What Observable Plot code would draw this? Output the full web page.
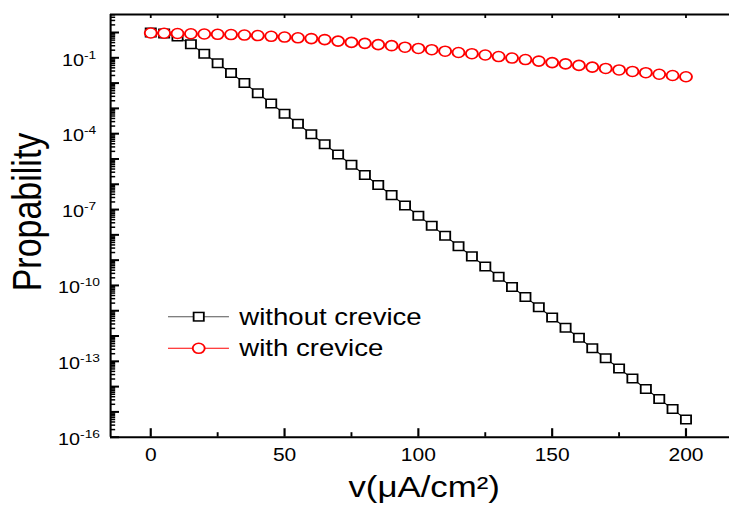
<!DOCTYPE html>
<html><head><meta charset="utf-8">
<script src="https://cdn.jsdelivr.net/npm/d3@7"></script>
<script src="https://cdn.jsdelivr.net/npm/@observablehq/plot@0.6"></script>
<style>html,body{margin:0;padding:0;background:#fff;} #chart svg{display:block;}</style>
</head><body><div id="chart"></div>
<script>
// ---- data ----
const velocity = [0,5,10,15,20,25,30,35,40,45,50,55,60,65,70,75,80,85,90,95,100,105,110,115,120,125,130,135,140,145,150,155,160,165,170,175,180,185,190,195,200];
const withoutCrevice = [1.0,0.91,0.69,0.34,0.145,0.0603,0.0251,1.0e-2,3.98e-3,1.55e-3,6.17e-4,2.45e-4,9.55e-5,3.80e-5,1.51e-5,5.89e-6,2.34e-6,9.33e-7,3.72e-7,1.45e-7,5.75e-8,2.29e-8,9.12e-9,3.55e-9,1.41e-9,5.62e-10,2.19e-10,8.71e-11,3.47e-11,1.38e-11,5.37e-12,2.14e-12,8.51e-13,3.31e-13,1.32e-13,5.25e-14,2.09e-14,8.13e-15,3.24e-15,1.29e-15,5.01e-16];
const withCrevice = [0.955,0.933,0.912,0.891,0.871,0.851,0.832,0.794,0.759,0.708,0.661,0.617,0.575,0.525,0.457,0.407,0.372,0.331,0.302,0.263,0.234,0.209,0.182,0.162,0.145,0.129,0.112,0.0977,0.0851,0.0741,0.0646,0.0575,0.0501,0.0427,0.0380,0.0331,0.0288,0.0257,0.0224,0.0200,0.0178];
const seriesNames = ["without crevice", "with crevice"];
const xTickValues = [0, 50, 100, 150, 200];
const xMinorTicks = [25, 75, 125, 175];
const xTopTicks = [0, 25, 50, 75, 100, 125, 150, 175, 200];
const yTickValues = [1e-1, 1e-4, 1e-7, 1e-10, 1e-13, 1e-16];
const yTickExponents = ["-1", "-4", "-7", "-10", "-13", "-16"];
const xTitle = "v(\u03bcA/cm\u00b2)";
const yTitle = "Propability";

// ---- layout (drawn at 607.5 wide, then stretched to 729 like the reference) ----
const W = 607.5, H = 517, ML = 91.67, MR = 0, MT = 14, MB = 80.3;
const xDomain = [-15, 216.3];
const yDomain = [1e-16, 5.15];
const frameW = W - ML - MR, frameH = H - MT - MB;
const pxPerUnitX = frameW / (xDomain[1] - xDomain[0]);
const pxPerDecade = frameH / Math.log10(yDomain[1] / yDomain[0]);
const FONT = "Arial, 'Liberation Sans', Helvetica, sans-serif";

const decades = [];
const minorY = [];
for (let k = -16; k <= 0; k++) {
  decades.push(Math.pow(10, k));
  for (let m = 2; m <= 9; m++) {
    const v = m * Math.pow(10, k);
    if (v <= yDomain[1]) minorY.push(v);
  }
}
// tick lengths (pixels) expressed through the scales
const xAt = px => xDomain[0] + px / pxPerUnitX;
const yUp = px => yDomain[0] * Math.pow(10, px / pxPerDecade);
const yDown = px => yDomain[1] / Math.pow(10, px / pxPerDecade);

const rowsWithout = velocity.map((v, i) => ({v, p: withoutCrevice[i], series: seriesNames[0]}));
const rowsWith = velocity.map((v, i) => ({v, p: withCrevice[i], series: seriesNames[1]}));

const chart = Plot.plot({
  width: W, height: H,
  marginLeft: ML, marginRight: MR, marginTop: MT, marginBottom: MB,
  style: {fontFamily: FONT, background: "white", color: "black"},
  x: {domain: xDomain, axis: null},
  y: {type: "log", domain: yDomain, axis: null},
  marks: [
    Plot.ruleY(minorY, {y: d => d, x1: () => xDomain[0], x2: () => xAt(4.3), stroke: "black", strokeWidth: 1.5}),
    Plot.ruleY(decades, {y: d => d, x1: () => xDomain[0], x2: () => xAt(7.5), stroke: "black", strokeWidth: 2}),
    Plot.ruleX(xMinorTicks, {x: d => d, y1: () => yDomain[0], y2: () => yUp(4.5), stroke: "black", strokeWidth: 1.6}),
    Plot.ruleX(xTickValues, {x: d => d, y1: () => yDomain[0], y2: () => yUp(8.5), stroke: "black", strokeWidth: 1.8}),
    Plot.ruleX(xTopTicks, {x: d => d, y1: () => yDomain[1], y2: () => yDown(4), stroke: "black", strokeWidth: 1.5}),
    Plot.ruleX([xDomain[0]], {stroke: "black", strokeWidth: 1.7}),
    Plot.ruleY([yDomain[0]], {stroke: "black", strokeWidth: 2}),
    Plot.ruleY([yDomain[1]], {stroke: "black", strokeWidth: 2}),
    Plot.line(rowsWithout, {x: "v", y: "p", stroke: "black", strokeWidth: 1}),
    Plot.dot(rowsWithout, {x: "v", y: "p", symbol: "square", r: 4.8, stroke: "black", fill: "white", strokeWidth: 1.5}),
    Plot.line(rowsWith, {x: "v", y: "p", stroke: "red", strokeWidth: 1}),
    Plot.dot(rowsWith, {x: "v", y: "p", symbol: "circle", r: 5, stroke: "red", fill: "white", strokeWidth: 1.6}),
    Plot.text(yTickValues, {y: d => d, frameAnchor: "left", text: (d, i) => "10^" + yTickExponents[i],
      textAnchor: "middle", dx: -26.3, dy: 2.5, fontSize: 16.5, fill: "black"}),
    Plot.text(xTickValues, {x: d => d, frameAnchor: "bottom", text: d => String(d),
      lineAnchor: "top", dy: 11.6, fontSize: 17.5, fill: "black"}),
    Plot.text([yTitle], {frameAnchor: "left", text: d => d, rotate: -90, textAnchor: "middle",
      dx: 22.9 - ML, dy: 211.5 - (MT + frameH / 2), fontSize: 34, fill: "black"}),
    Plot.text([xTitle], {frameAnchor: "bottom", text: d => d, textAnchor: "middle",
      dx: 3.4, dy: 60, fontSize: 29, fill: "black"})
  ]
});

// superscript exponents on the y tick labels
d3.select(chart).selectAll("text").filter(function () { return this.textContent.indexOf("^") >= 0; }).each(function () {
  const parts = this.textContent.split("^");
  const s = d3.select(this);
  s.text(parts[0]);
  s.append("tspan").attr("font-size", 11.5).attr("dy", -7).text(parts[1]);
});

// legend inside the plot
const legendItems = [
  {label: seriesNames[0], stroke: "black", line: "#555", symbol: "square"},
  {label: seriesNames[1], stroke: "red", line: "red", symbol: "circle"}
];
const lg = d3.select(chart).append("g").attr("font-family", FONT).attr("text-anchor", "start");
legendItems.forEach((it, i) => {
  const y = 316.7 + i * 31.6;
  lg.append("line").attr("x1", 140).attr("x2", 190.8).attr("y1", y).attr("y2", y)
    .attr("stroke", it.line).attr("stroke-width", 1);
  if (it.symbol === "square") {
    lg.append("rect").attr("x", 165.6 - 4.25).attr("y", y - 4.25).attr("width", 8.5).attr("height", 8.5)
      .attr("fill", "white").attr("stroke", it.stroke).attr("stroke-width", 1.5);
  } else {
    lg.append("circle").attr("cx", 165.6).attr("cy", y).attr("r", 5)
      .attr("fill", "white").attr("stroke", it.stroke).attr("stroke-width", 1.6);
  }
  lg.append("text").attr("x", 199.4).attr("y", y + 8.2).attr("font-size", 23).attr("fill", "black")
    .attr("text-anchor", "start").text(it.label);
});

// stretch horizontally to the reference's 729 px
chart.setAttribute("preserveAspectRatio", "none");
chart.style.width = "729px";
chart.style.height = "517px";
chart.style.maxWidth = "none";
document.getElementById("chart").appendChild(chart);
</script>
</body></html>
